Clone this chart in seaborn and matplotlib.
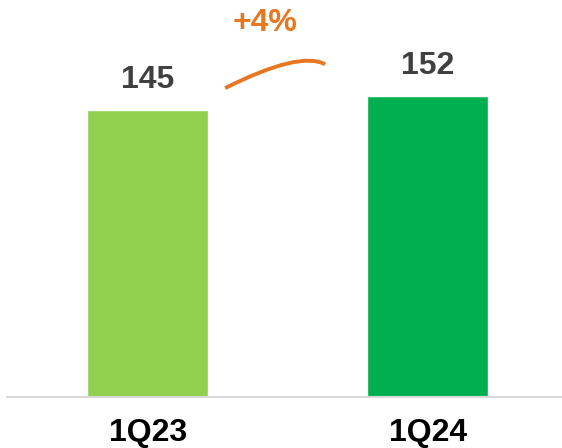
import numpy as np
import pandas as pd
from matplotlib import pyplot as plt
from matplotlib.path import Path
from matplotlib.patches import PathPatch
import seaborn as sns

# Chart data
quarters = ['1Q23', '1Q24']
values = [145, 152]
bar_colors = ['#92D050', '#00B050']
growth_label = '+4%'

df = pd.DataFrame({'quarter': quarters, 'value': values})

sns.set_style('white')
plt.rcParams['font.family'] = ['Liberation Sans', 'DejaVu Sans']

fig = plt.figure(figsize=(5.62, 4.48), dpi=100)
ax = fig.add_axes([7 / 562, 51 / 448, 555 / 562, 397 / 448])

sns.barplot(data=df, x='quarter', y='value', hue='quarter', palette=bar_colors,
            width=0.432, saturation=1, legend=False, ax=ax)

# value labels above bars
for i, v in enumerate(values):
    ax.text(i, v + 7.5, str(v), ha='center', va='bottom', fontsize=23,
            fontweight='bold', color='#404040')

ax.set_xlim(-0.502, 1.48)
ax.set_ylim(0, 200.5)

# growth arc
verts = [(0.277, 156), (0.545, 175), (0.634, 168)]
arc = PathPatch(Path(verts, [Path.MOVETO, Path.CURVE3, Path.CURVE3]),
                fill=False, edgecolor='#E87722', lw=2.8, capstyle='butt')
ax.add_patch(arc)
ax.text(0.42, 189, growth_label, ha='center', va='center', fontsize=23,
        fontweight='bold', color='#E87722')

sns.despine(ax=ax, left=True)
ax.spines['bottom'].set_color('#D9D9D9')
ax.spines['bottom'].set_linewidth(1.5)
ax.set_yticks([])
ax.set_xlabel('')
ax.set_ylabel('')
ax.tick_params(axis='x', length=0, pad=15)
for lbl in ax.get_xticklabels():
    lbl.set_fontsize(23)
    lbl.set_fontweight('bold')
    lbl.set_color('black')

fig.savefig('out.png', dpi=100)
